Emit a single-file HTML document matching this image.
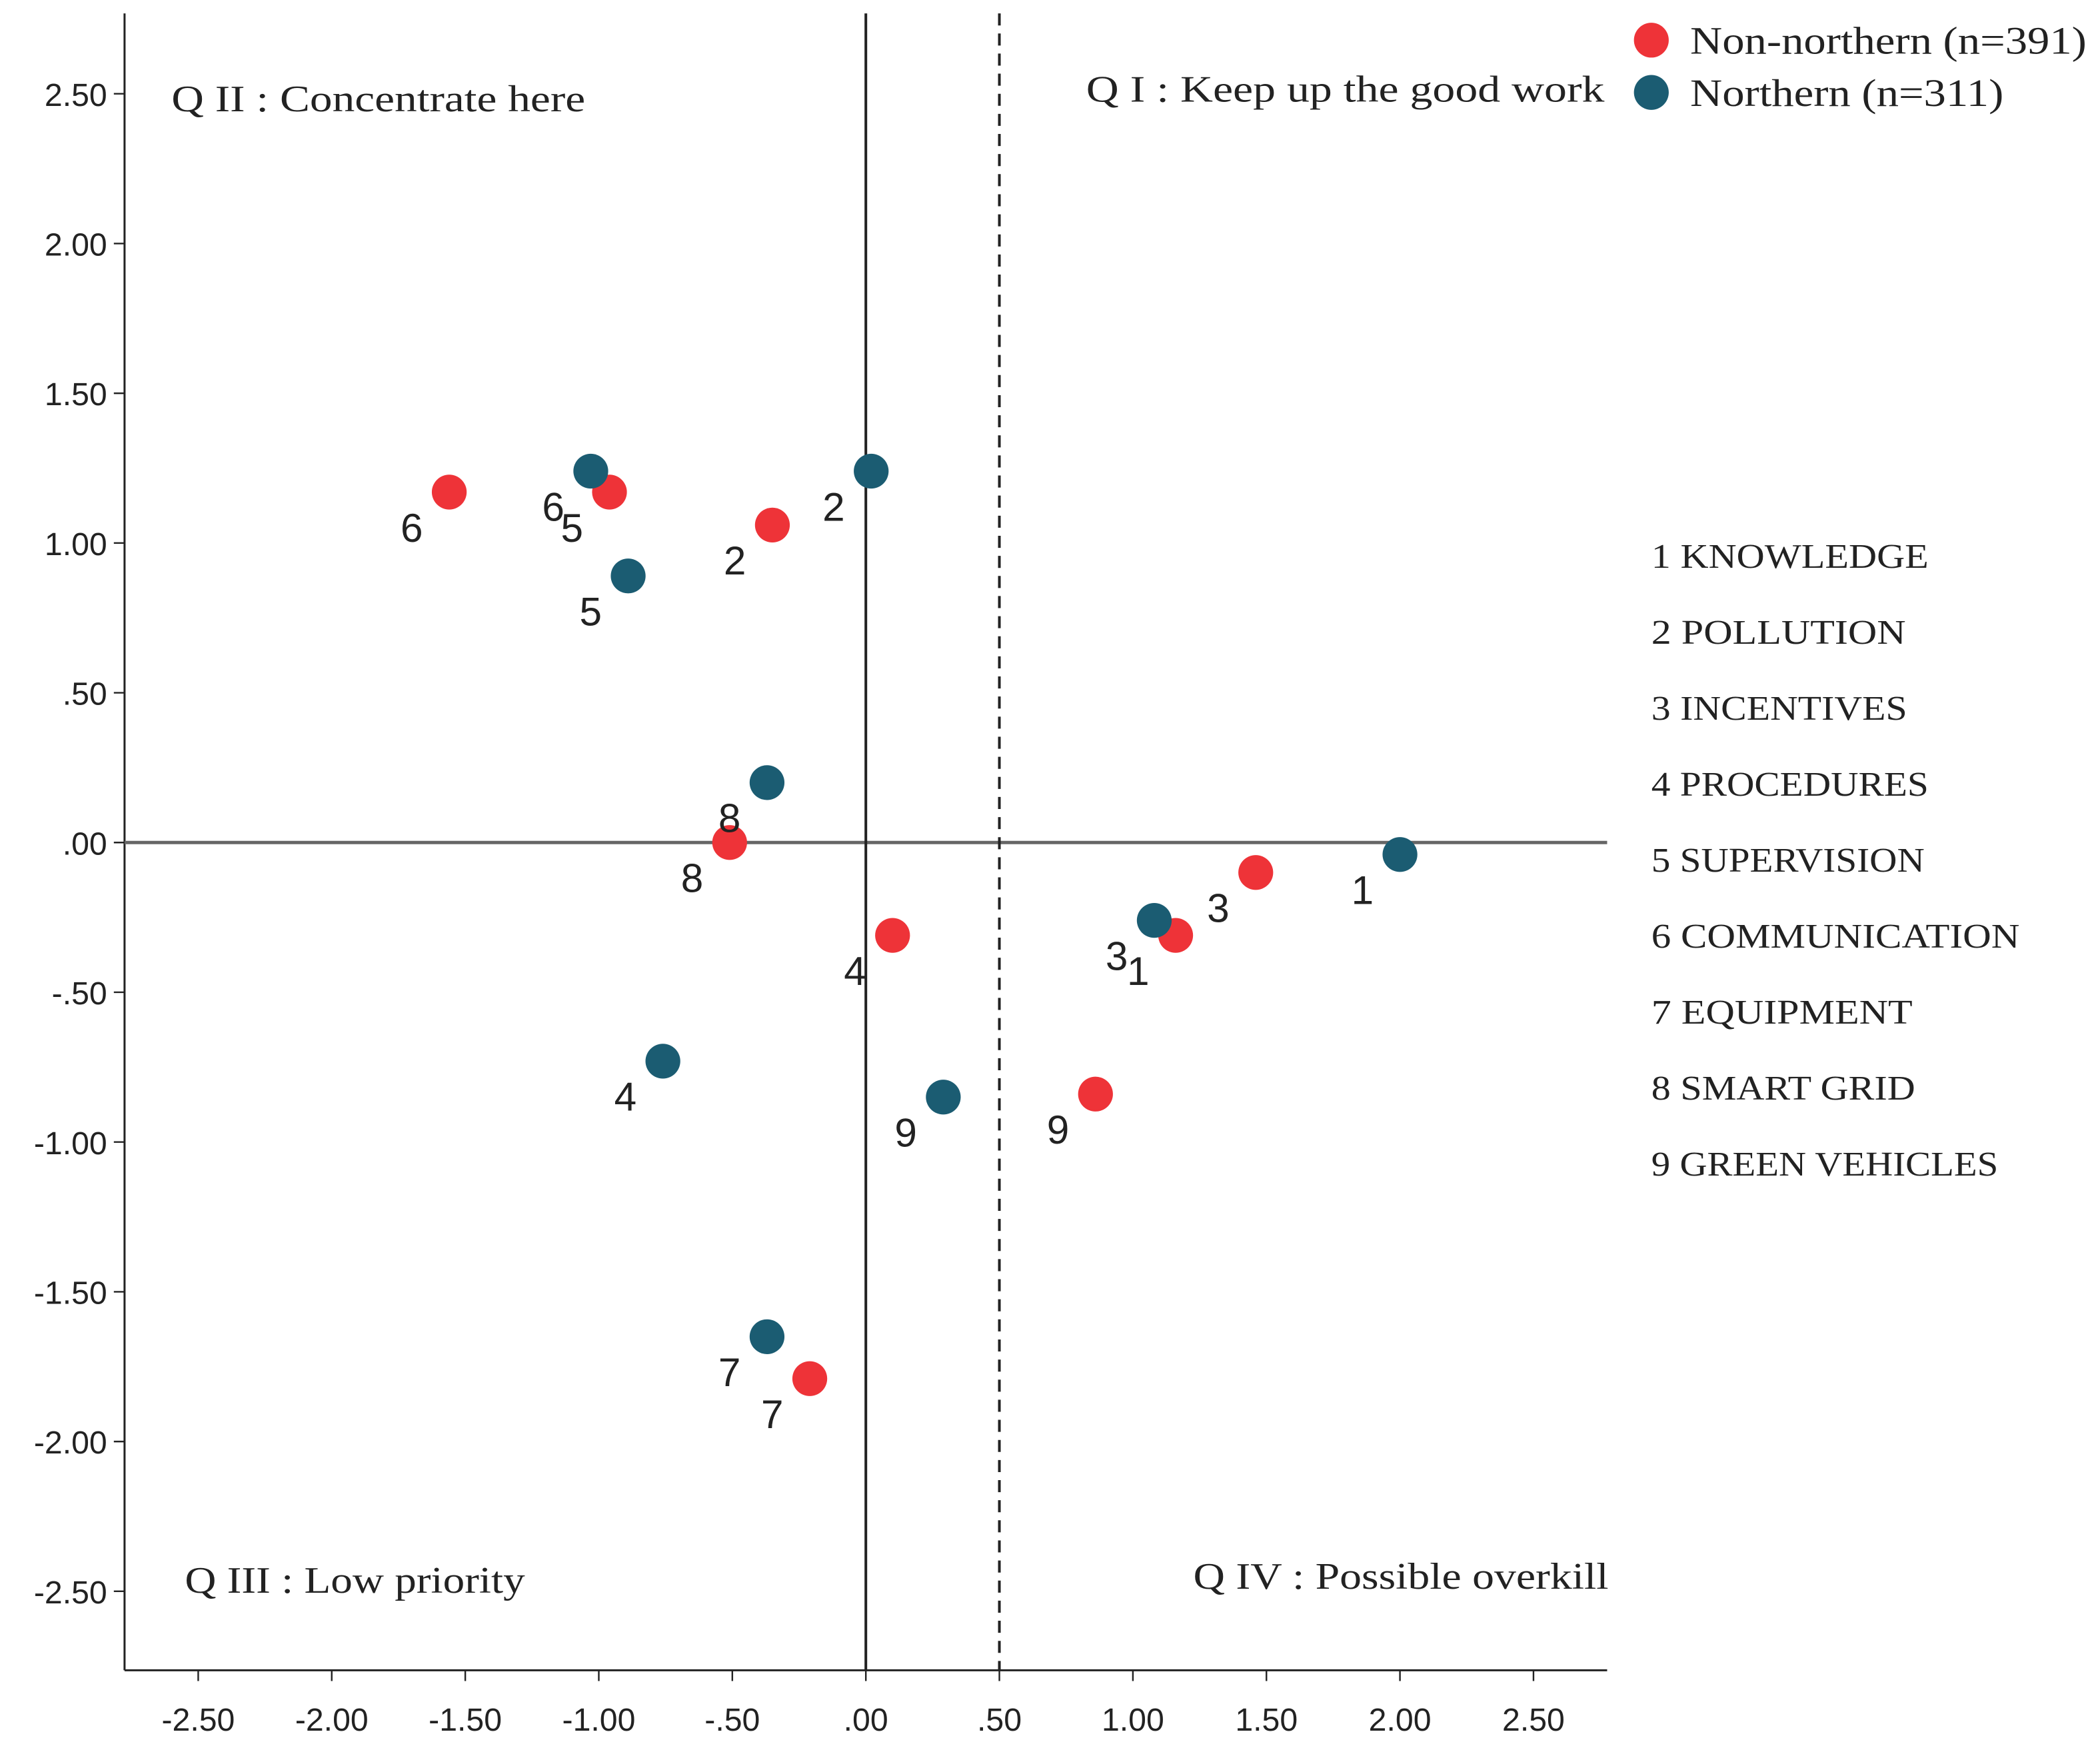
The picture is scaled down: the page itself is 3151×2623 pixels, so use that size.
<!DOCTYPE html>
<html><head><meta charset="utf-8"><style>
html,body{margin:0;padding:0;background:#fff;}
svg{display:block;}
</style></head><body>
<svg id="chart" xmlns="http://www.w3.org/2000/svg" width="3151" height="2623" viewBox="0 0 1568 1305" preserveAspectRatio="none">
<rect x="0" y="0" width="1568" height="1305" fill="#fff"/>
<g id="axes"></g>
<g id="marks"></g>
<g id="texts"></g>
</svg>
<script>
const xTicks = [-2.5,-2,-1.5,-1,-0.5,0,0.5,1,1.5,2,2.5];
const xTickLabels = ["-2.50","-2.00","-1.50","-1.00","-.50",".00",".50","1.00","1.50","2.00","2.50"];
const yTicks = [2.5,2,1.5,1,0.5,0,-0.5,-1,-1.5,-2,-2.5];
const yTickLabels = ["2.50","2.00","1.50","1.00",".50",".00","-.50","-1.00","-1.50","-2.00","-2.50"];
const itemIds = ["1","2","3","4","5","6","7","8","9"];
const itemNames = ["KNOWLEDGE","POLLUTION","INCENTIVES","PROCEDURES","SUPERVISION","COMMUNICATION","EQUIPMENT","SMART GRID","GREEN VEHICLES"];
const nonNorthX = [1.16,-0.35,1.46,0.10,-0.96,-1.56,-0.21,-0.51,0.86];
const nonNorthY = [-0.31,1.06,-0.10,-0.31,1.17,1.17,-1.79,0.00,-0.84];
const northX = [2.00,0.02,1.08,-0.76,-0.89,-1.03,-0.37,-0.37,0.29];
const northY = [-0.04,1.24,-0.26,-0.73,0.89,1.24,-1.65,0.20,-0.85];
const dashedX = 0.5;

const NS = "http://www.w3.org/2000/svg";
const xs = v => 646.5 + v * 199.4;
const ys = v => 629 + (-v) * 223.6;
const L = 93, R = 1200, T = 10, B = 1247;
const itemWidths = [207,190,191,207,204,275,195,197,259];
function mk(tag, attrs, parent, txt){
  const e = document.createElementNS(NS, tag);
  for (const k in attrs) e.setAttribute(k, attrs[k]);
  if (txt !== undefined) e.textContent = txt;
  parent.appendChild(e); return e;
}
const axes = document.getElementById('axes');
const marks = document.getElementById('marks');
const texts = document.getElementById('texts');
const sans = '"Liberation Sans", sans-serif';
const serif = '"Liberation Serif", serif';

let e;
e = mk('line',{x1:L,y1:T,x2:L,y2:B,stroke:'#222','stroke-width':1.5},axes);


e = mk('line',{x1:L,y1:B,x2:R,y2:B,stroke:'#222','stroke-width':1.5},axes);


xTicks.forEach((v,i)=>{
  e = mk('line',{x1:xs(v),y1:B,x2:xs(v),y2:B+8,stroke:'#222','stroke-width':1.2},axes);
  
  
  e = mk('text',{x:xs(v),y:B+45,'text-anchor':'middle','font-family':sans,'font-size':24,fill:'#222'},axes,xTickLabels[i]);
  
  
});
yTicks.forEach((v,i)=>{
  e = mk('line',{x1:L-8,y1:ys(v),x2:L,y2:ys(v),stroke:'#222','stroke-width':1.2},axes);
  
  
  e = mk('text',{x:L-13,y:ys(v)+9,'text-anchor':'end','font-family':sans,'font-size':24,fill:'#222'},axes,yTickLabels[i]);
  
  
});
e = mk('line',{x1:L,y1:ys(0),x2:R,y2:ys(0),stroke:'#666','stroke-width':2.5},axes);


e = mk('line',{x1:xs(0),y1:T,x2:xs(0),y2:B,stroke:'#222','stroke-width':2},axes);


e = mk('line',{x1:xs(dashedX),y1:T,x2:xs(dashedX),y2:B,stroke:'#222','stroke-width':2,'stroke-dasharray':'9,6'},axes);



function drawSeries(X, Y, color, name){
  X.forEach((v,i)=>{
    const cx = xs(v), cy = ys(Y[i]);
    e = mk('circle',{cx:cx,cy:cy,r:13,fill:color},marks);
    
    
    e = mk('text',{x:cx-28,y:cy+37,'text-anchor':'middle','font-family':sans,'font-size':30,fill:'#222'},texts,itemIds[i]);
    
    
  });
}
drawSeries(nonNorthX, nonNorthY, '#ee3338', 'non-northern');
drawSeries(northX, northY, '#1b5c72', 'northern');

const quads = [
  ['Q II : Concentrate here',128,83,309,'quadrant-ii-label'],
  ['Q I : Keep up the good work',811,76,387,'quadrant-i-label'],
  ['Q III : Low priority',138,1189,254,'quadrant-iii-label'],
  ['Q IV : Possible overkill',891,1186,310,'quadrant-iv-label']
];
quads.forEach(q=>{
  e = mk('text',{x:q[1],y:q[2],textLength:q[3],lengthAdjust:'spacingAndGlyphs','font-family':serif,'font-size':28,fill:'#222'},texts,q[0]);
  
  
});
const legend = [['Non-northern (n=391)','#ee3338',30,296],['Northern (n=311)','#1b5c72',69,234]];
legend.forEach((l,i)=>{
  e = mk('circle',{cx:1233,cy:l[2],r:13,fill:l[1]},texts);
  
  
  e = mk('text',{x:1262,y:l[2]+10,textLength:l[3],lengthAdjust:'spacingAndGlyphs','font-family':serif,'font-size':29,fill:'#222'},texts,l[0]);
  
  
});
itemNames.forEach((n,i)=>{
  e = mk('text',{x:1233,y:424+i*56.7,textLength:itemWidths[i],lengthAdjust:'spacingAndGlyphs','font-family':serif,'font-size':26,fill:'#222'},texts,itemIds[i]+' '+n);
  
  
});
</script>
</body></html>
